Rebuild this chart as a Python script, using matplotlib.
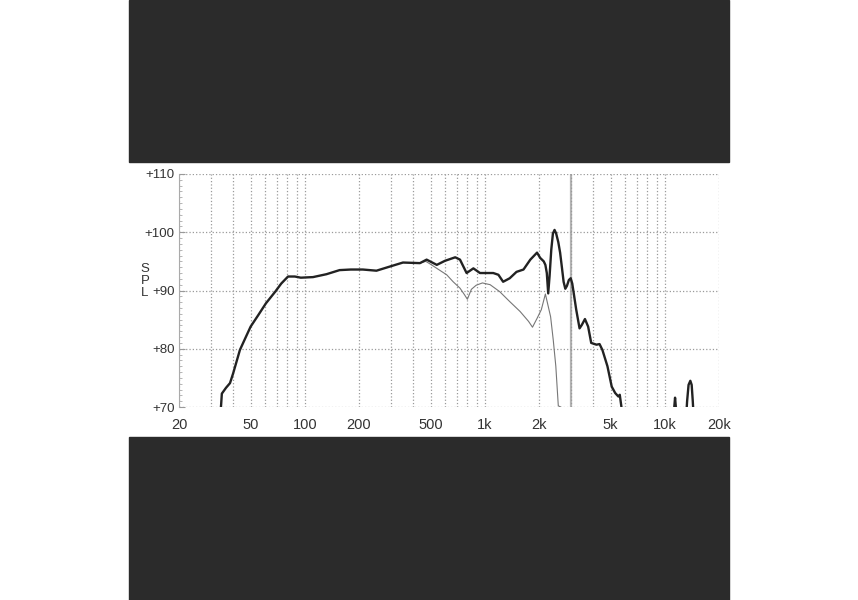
import matplotlib
matplotlib.use('Agg')
import matplotlib.pyplot as plt
from matplotlib.patches import Rectangle
from matplotlib.ticker import FixedLocator, LogLocator, NullFormatter

plt.rcParams['font.family'] = ['Liberation Sans', 'DejaVu Sans']

# on-axis response (thick line), Hz / dB
freq_on = [34.0, 34.3, 34.6, 36.5, 38.4, 40, 43.6, 47, 50, 55.2, 60.8, 68.5, 74, 80.7,
           88, 95, 111, 132, 156, 180, 210, 250, 296, 351, 436, 475, 541, 601, 685,
           728, 792, 864, 940, 970, 1114, 1190, 1264, 1375, 1500, 1640, 1790, 1950,
           2030, 2125, 2170, 2210, 2250, 2290, 2340, 2390, 2440, 2490, 2560, 2620,
           2680, 2740, 2800, 2860, 2930, 3000, 3060, 3120, 3220, 3360, 3460, 3600,
           3750, 3900, 4170, 4340, 4500, 4800, 5070, 5300, 5520, 5620, 5800, 7000,
           11200, 11300, 11400, 11500, 11650, 13000, 13300, 13550, 13860, 14100,
           14300, 14600, 16000]
spl_on = [69, 70.5, 72.3, 73.3, 74.1, 75.8, 79.8, 82, 83.8, 85.8, 87.8, 89.8, 91.2, 92.4,
          92.4, 92.2, 92.3, 92.8, 93.5, 93.6, 93.6, 93.4, 94.1, 94.8, 94.7, 95.3, 94.4,
          95.1, 95.7, 95.3, 93.0, 93.8, 93.0, 93.0, 93.0, 92.7, 91.5, 92.1, 93.2, 93.6,
          95.3, 96.5, 95.6, 95.0, 94.4, 93.0, 89.5, 92.5, 97.0, 99.8, 100.4, 99.8,
          98.3, 96.5, 94.0, 91.5, 90.3, 90.8, 91.8, 92.1, 91.2, 89.5, 86.7, 83.5,
          84.1, 85.1, 83.8, 81.0, 80.7, 80.8, 79.8, 77.0, 73.5, 72.4, 71.8, 72.1,
          69, 64, 66, 70.2, 71.6, 70.2, 66, 66, 71, 73.8, 74.5, 73.8, 71, 66, 64]

# off-axis response (thin line)
freq_off = [380, 436, 470, 500, 560, 614, 667, 728, 770, 800, 842, 895, 970, 1070,
            1210, 1375, 1570, 1750, 1840, 1950, 2060, 2170, 2320, 2400, 2480, 2560, 2640]
spl_off = [94.8, 94.7, 95.0, 94.5, 93.5, 92.7, 91.5, 90.4, 89.3, 88.5, 90.2, 90.9, 91.3,
           91.0, 89.8, 88.1, 86.4, 84.7, 83.7, 85.2, 86.7, 89.4, 85.5, 81.5, 77.0, 70.2, 70.0]

xtick_vals = [20, 50, 100, 200, 500, 1000, 2000, 5000, 10000, 20000]
xtick_labels = ['20', '50', '100', '200', '500', '1k', '2k', '5k', '10k', '20k']
ytick_vals = [70, 80, 90, 100, 110]
ytick_labels = ['+70', '+80', '+90', '+100', '+110']

fig = plt.figure(figsize=(8.58, 6.0), dpi=100)
fig.patch.set_facecolor('white')
# dark bands above and below the chart
fig.add_artist(Rectangle((129 / 858, 1 - 162 / 600), 600 / 858, 162 / 600,
                         transform=fig.transFigure, color='#2b2b2b', zorder=0))
fig.add_artist(Rectangle((129 / 858, 0), 600 / 858, 163 / 600,
                         transform=fig.transFigure, color='#2b2b2b', zorder=0))

ax = fig.add_axes([179 / 858, 193 / 600, 540 / 858, 233 / 600])
ax.set_xscale('log')
ax.set_xlim(20, 20000)
ax.set_ylim(70, 110)

ax.xaxis.set_major_locator(FixedLocator(xtick_vals))
ax.set_xticklabels(xtick_labels)
ax.xaxis.set_minor_locator(LogLocator(base=10, subs=range(1, 10), numticks=20))
ax.xaxis.set_minor_formatter(NullFormatter())
ax.tick_params(axis='x', which='both', length=0, pad=8, labelsize=10.5, labelcolor='#333333')

ax.set_yticks(ytick_vals)
ax.set_yticklabels(ytick_labels)
ax.yaxis.set_minor_locator(FixedLocator(range(70, 111)))
ax.tick_params(axis='y', which='major', direction='in', length=4, color='#999999',
               pad=3, labelsize=9.5, labelcolor='#333333')
ax.tick_params(axis='y', which='minor', direction='in', length=2.5, color='#aaaaaa')

ax.grid(which='both', axis='x', linestyle=':', color='#9a9a9a', linewidth=0.9)
ax.grid(which='major', axis='y', linestyle=':', color='#9a9a9a', linewidth=0.9)
ax.axvline(3000, color='#b4b4b4', linewidth=1.6, zorder=1)

for s in ['top', 'right', 'bottom']:
    ax.spines[s].set_visible(False)
ax.spines['left'].set_color('#aaaaaa')
ax.spines['left'].set_linewidth(0.8)

ax.plot(freq_off, spl_off, color='#777777', linewidth=0.8, zorder=3)
ax.plot(freq_on, spl_on, color='#222222', linewidth=1.7, zorder=4)

fig.text(145 / 858, 1 - 281 / 600, 'S\nP\nL', ha='center', va='center',
         fontsize=9.5, color='#333333', linespacing=0.95)

fig.savefig('out.png', dpi=100)
